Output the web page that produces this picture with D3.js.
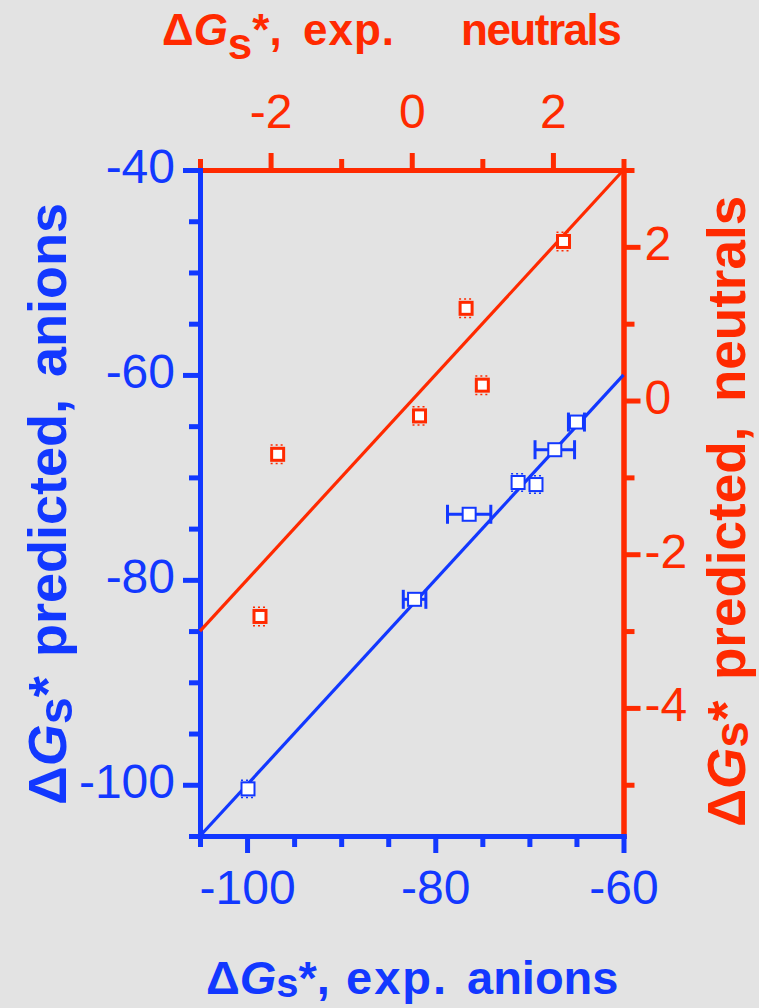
<!DOCTYPE html>
<html>
<head>
<meta charset="utf-8">
<script src="https://cdn.jsdelivr.net/npm/d3@7"></script>
<style>
  body { margin: 0; background: #e3e3e3; }
  svg { display: block; font-family: "Liberation Sans", Arial, Helvetica, sans-serif; }
</style>
</head>
<body>
<div id="chart"></div>
<script>
// anions (blue, bottom / left axes)
var anionsExp = [-99.9, -82.2, -76.4, -71.2, -69.3, -67.3, -65.0];
var anionsPred = [-100.4, -81.9, -73.6, -70.5, -70.7, -67.3, -64.6];
var anionsExpErr = [0, 1.2, 2.3, 0, 0, 2.1, 0.85];
var anionsPredErr = [0.85, 0, 0, 0.85, 0.85, 0, 0];

// neutrals (red, top / right axes)
var neutralsExp = [-2.15, -1.90, 0.11, 0.77, 1.00, 2.15];
var neutralsPred = [-2.81, -0.70, -0.20, 1.20, 0.20, 2.07];
var neutralsPredErr = [0.12, 0.12, 0.12, 0.12, 0.12, 0.12];

// axis domains and ticks
var anionsXDomain = [-105, -60];
var anionsYDomain = [-105, -40];
var neutralsXDomain = [-3, 3];
var neutralsYDomain = [-5.667, 3];

var bottomMajor = [-100, -80, -60];
var bottomMinor = [-105, -95, -90, -85, -75, -70, -65];
var leftMajor = [-100, -80, -60, -40];
var leftMinor = [-105, -95, -90, -85, -75, -70, -65, -55, -50, -45];
var topMajor = [-2, 0, 2];
var topMinor = [-3, -1, 1, 3];
var rightMajor = [-4, -2, 0, 2];
var rightMinor = [-5, -3, -1, 1, 3];

var width = 759, height = 1008;
var blue = "#1238ff", red = "#ff2a00";

var svg = d3.select('#chart').append('svg')
    .attr('width', width)
    .attr('height', height);

svg.append('rect').attr('width', width).attr('height', height).attr('fill', '#e3e3e3');

var x = d3.scaleLinear().domain(anionsXDomain).range([200, 623.5]);
var y = d3.scaleLinear().domain(anionsYDomain).range([836, 170]);
var xN = d3.scaleLinear().domain(neutralsXDomain).range([200, 623.5]);
var yN = d3.scaleLinear().domain(neutralsYDomain).range([836, 170]);

function drawAxis(axisFn, scale, major, minor, color, translate, pad, textDy) {
    var g = svg.append('g').attr('transform', translate);
    g.append('g').call(axisFn(scale).tickValues(minor).tickSize(11).tickSizeOuter(0).tickFormat(''));
    var gMaj = g.append('g').call(axisFn(scale).tickValues(major).tickSize(17).tickSizeOuter(0).tickPadding(pad)
        .tickFormat(function (d) { return String(d); }));
    g.selectAll('.domain').attr('stroke', color).attr('stroke-width', 5).attr('stroke-linecap', 'square');
    g.selectAll('.tick line').attr('stroke', color).attr('stroke-width', 5);
    gMaj.attr('font-family', null).attr('font-size', 48);
    g.selectAll('.tick text').attr('fill', color);
    if (textDy) gMaj.selectAll('.tick text').attr('dy', textDy);
    return g;
}

// red axes first, blue on top
drawAxis(d3.axisTop, xN, topMajor, topMinor, red, 'translate(0,170)', 25);
drawAxis(d3.axisRight, yN, rightMajor, rightMinor, red, 'translate(623.5,0)', 4, '0.27em');
drawAxis(d3.axisLeft, y, leftMajor, leftMinor, blue, 'translate(200,0)', 8, '0.27em');
drawAxis(d3.axisBottom, x, bottomMajor, bottomMinor, blue, 'translate(0,836)', 17);

// identity lines
var fitA = [anionsXDomain[0], anionsXDomain[1]];
var fitN = [neutralsXDomain[0], neutralsXDomain[1]];
svg.append('path')
    .attr('d', d3.line().x(function (d) { return x(d); }).y(function (d) { return y(d); })(fitA))
    .attr('stroke', blue).attr('stroke-width', 3.2).attr('fill', 'none');
svg.append('path')
    .attr('d', d3.line().x(function (d) { return xN(d); }).y(function (d) { return yN(d); })(fitN))
    .attr('stroke', red).attr('stroke-width', 3.2).attr('fill', 'none');

// error bars
var errG = svg.append('g');
anionsExp.forEach(function (e, i) {
    var cx = x(e), cy = y(anionsPred[i]);
    if (anionsExpErr[i] > 0) {
        var x0 = x(e - anionsExpErr[i]), x1 = x(e + anionsExpErr[i]);
        errG.append('line').attr('x1', x0).attr('x2', x1).attr('y1', cy).attr('y2', cy)
            .attr('stroke', blue).attr('stroke-width', 3);
        [x0, x1].forEach(function (xx) {
            errG.append('line').attr('x1', xx).attr('x2', xx).attr('y1', cy - 9.5).attr('y2', cy + 9.5)
                .attr('stroke', blue).attr('stroke-width', 3);
        });
    }
    if (anionsPredErr[i] > 0) {
        var y0 = y(anionsPred[i] - anionsPredErr[i]), y1 = y(anionsPred[i] + anionsPredErr[i]);
        [y0, y1].forEach(function (yy) {
            errG.append('line').attr('x1', cx - 7).attr('x2', cx + 7).attr('y1', yy).attr('y2', yy)
                .attr('stroke', blue).attr('stroke-width', 1.5).attr('stroke-dasharray', '2,3');
        });
    }
});
neutralsExp.forEach(function (e, i) {
    var cx = xN(e);
    var y0 = yN(neutralsPred[i] - neutralsPredErr[i]), y1 = yN(neutralsPred[i] + neutralsPredErr[i]);
    [y0, y1].forEach(function (yy) {
        errG.append('line').attr('x1', cx - 7).attr('x2', cx + 7).attr('y1', yy).attr('y2', yy)
            .attr('stroke', red).attr('stroke-width', 1.5).attr('stroke-dasharray', '2,3');
    });
});

// square markers
svg.append('g').selectAll('rect')
    .data(neutralsExp)
    .enter().append('rect')
    .attr('x', function (d) { return xN(d) - 6; })
    .attr('y', function (d, i) { return yN(neutralsPred[i]) - 6; })
    .attr('width', 12).attr('height', 12)
    .attr('fill', '#fff').attr('stroke', red).attr('stroke-width', 3);

svg.append('g').selectAll('rect')
    .data(anionsExp)
    .enter().append('rect')
    .attr('x', function (d) { return x(d) - 6.5; })
    .attr('y', function (d, i) { return y(anionsPred[i]) - 6.5; })
    .attr('width', 13).attr('height', 13)
    .attr('fill', '#fff').attr('stroke', blue).attr('stroke-width', 2);

// titles: ΔGs* followed by words placed at their own start positions
// words: [text, start, letterSpacing]
function richTitle(t, x0, head, words, subShift, subSize) {
    t.append('tspan').attr('x', x0).text('Δ');
    t.append('tspan').attr('font-style', 'italic').text('G');
    t.append('tspan').attr('dy', subShift).attr('font-size', subSize).text('s');
    t.append('tspan').attr('dy', -subShift).text(head);
    words.forEach(function (w) {
        var s = t.append('tspan').attr('x', w[1]).text(w[0]);
        if (w[2]) s.attr('letter-spacing', w[2]);
    });
}

richTitle(svg.append('text')
    .attr('y', 45).attr('font-size', 44).attr('font-weight', 'bold').attr('fill', red),
    162, '*,', [['exp.', 303, 1], ['neutrals', 461, -1.5]], 14, '1em');

richTitle(svg.append('text')
    .attr('y', 994).attr('font-size', 47).attr('font-weight', 'bold').attr('fill', blue),
    206, '*,', [['exp.', 346, 2], ['anions', 467]], 3, '0.85em');

richTitle(svg.append('text')
    .attr('transform', 'translate(66,0) rotate(-90)')
    .attr('font-size', 54).attr('font-weight', 'bold').attr('fill', blue),
    -805, '*', [['predicted,', -657], ['anions', -377]], 6, '0.9em');

richTitle(svg.append('text')
    .attr('transform', 'translate(745,0) rotate(-90)')
    .attr('font-size', 53).attr('font-weight', 'bold').attr('fill', red),
    -827, '*', [['predicted,', -680], ['neutrals', -402]], 3, '0.9em');
</script>
</body>
</html>
